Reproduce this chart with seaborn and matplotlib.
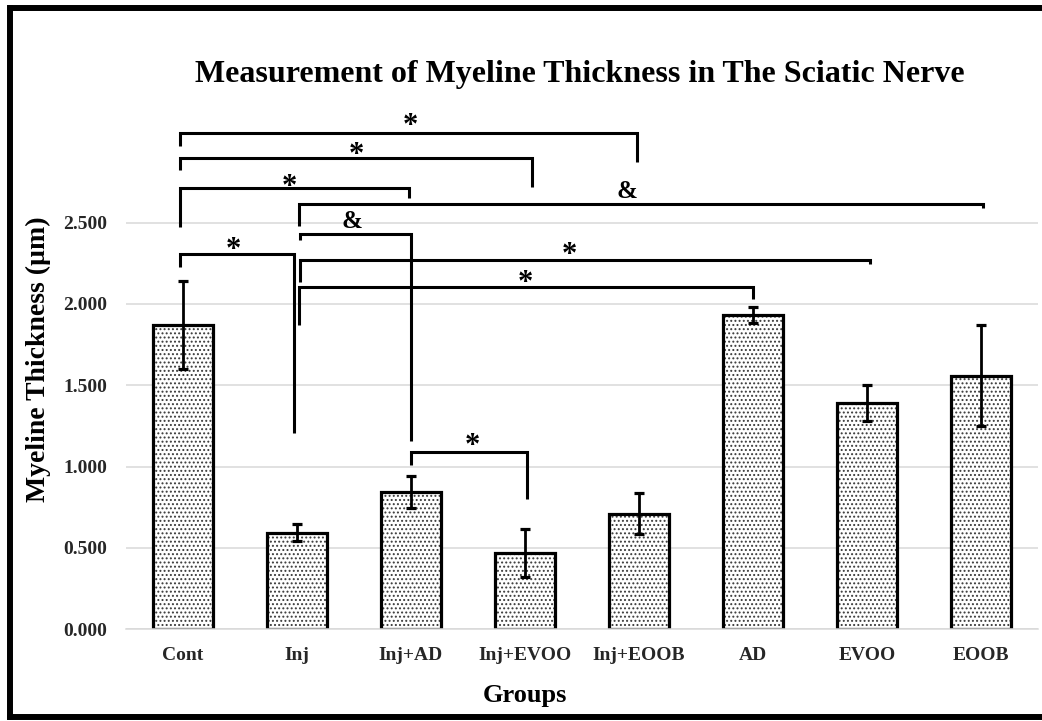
import matplotlib
matplotlib.use("Agg")
import matplotlib.pyplot as plt
import seaborn as sns
import pandas as pd
import numpy as np
from matplotlib.colors import to_rgba
from matplotlib.lines import Line2D

# ---------------- data ----------------
groups = ["Cont", "Inj", "Inj+AD", "Inj+EVOO", "Inj+EOOB", "AD", "EVOO", "EOOB"]
means = [1.87, 0.595, 0.845, 0.47, 0.71, 1.93, 1.39, 1.56]
errors = [0.27, 0.055, 0.10, 0.146, 0.125, 0.05, 0.11, 0.31]
yticks = [0.0, 0.5, 1.0, 1.5, 2.0, 2.5]
ytick_labels = ["0.000", "0.500", "1.000", "1.500", "2.000", "2.500"]

title = "Measurement of Myeline Thickness in The Sciatic Nerve"
ylabel = "Myeline Thickness (\u00b5m)"
xlabel = "Groups"

# significance brackets
bracket_left = ["Cont", "Cont", "Cont", "Inj", "Inj", "Cont", "Inj", "Inj", "Inj+AD"]
bracket_right = ["Inj+EOOB", "Inj+EVOO", "Inj+AD", "EOOB", "Inj+AD", "Inj", "EVOO", "AD", "Inj+EVOO"]
bracket_symbol = ["*", "*", "*", "&", "&", "*", "*", "*", "*"]
bracket_top = [3.05, 2.895, 2.71, 2.614, 2.43, 2.305, 2.27, 2.106, 1.088]
bracket_left_end = [2.97, 2.823, 2.475, 2.479, 2.39, 2.225, 2.137, 1.87, 1.01]
bracket_right_end = [2.87, 2.717, 2.65, 2.588, 1.157, 1.206, 2.245, 2.03, 0.80]
symbol_x = [1.99, 1.52, 0.93, 3.89, 1.48, 0.44, 3.39, 3.0, 2.54]
symbol_y = [3.13, 2.952, 2.76, 2.70, 2.52, 2.368, 2.337, 2.17, 1.163]
# small horizontal offsets of the bracket legs (category units)
left_dx = [-0.03, -0.03, -0.03, 0.02, 0.025, -0.03, 0.025, 0.02, 0.0]
right_dx = [-0.02, 0.06, -0.02, 0.02, 0.0, -0.03, 0.03, 0.0, 0.02]

df = pd.DataFrame({"group": groups, "mean": means, "err": errors})

# ---------------- style ----------------
sns.set_theme(style="white")
plt.rcParams["font.family"] = ["Liberation Serif", "DejaVu Serif"]
plt.rcParams["font.weight"] = "bold"
plt.rcParams["hatch.linewidth"] = 0.9

W, H = 1042, 721
fig = plt.figure(figsize=(W / 100, H / 100), dpi=100)
fig.patch.set_facecolor("white")
ax = fig.add_axes([126 / W, 1 - 629.3 / H, 912 / W, 520.6 / H])

sns.barplot(data=df, x="group", y="mean", order=groups, color="white",
            edgecolor="black", linewidth=2.3, width=0.52, errorbar=None,
            saturation=1, ax=ax, zorder=2)
for p in ax.patches:
    p.set_hatch("....")
    p._hatch_color = to_rgba("#3a3a3a")

pos = np.arange(len(groups))
ax.errorbar(pos, df["mean"], yerr=df["err"], fmt="none", ecolor="black",
            elinewidth=2.0, capsize=3.6, capthick=2.3, zorder=3)

ax.set_xlim(-0.5, len(groups) - 0.5)
ax.set_ylim(0, 3.2)
ax.set_yticks(yticks)
ax.set_yticklabels(ytick_labels)
ax.set_xticks(pos)
ax.set_xticklabels(groups)
ax.set_xticks(np.arange(len(groups) + 1) - 0.5, minor=True)
ax.tick_params(axis="x", which="major", length=0, pad=12.5, labelsize=14)
ax.tick_params(axis="x", which="minor", length=5, width=1.1, color="#d9d9d9", direction="out")
ax.tick_params(axis="y", length=0, pad=13.5, labelsize=14)
for lab in ax.get_xticklabels() + ax.get_yticklabels():
    lab.set_fontweight("bold")
ax.set_xlabel("")
ax.set_ylabel("")
ax.yaxis.grid(True, color="#d9d9d9", linewidth=1.1)
ax.xaxis.grid(False)
ax.set_axisbelow(True)
for s in ["top", "right", "left"]:
    ax.spines[s].set_visible(False)
ax.spines["bottom"].set_color("#d9d9d9")
ax.spines["bottom"].set_linewidth(1.1)
ax.set_facecolor("white")

# brackets
idx = {g: i for i, g in enumerate(groups)}
for i in range(len(bracket_left)):
    x1 = idx[bracket_left[i]] + left_dx[i]
    x2 = idx[bracket_right[i]] + right_dx[i]
    ax.plot([x1, x1, x2, x2],
            [bracket_left_end[i], bracket_top[i], bracket_top[i], bracket_right_end[i]],
            color="black", lw=2.2, solid_joinstyle="miter", solid_capstyle="butt",
            clip_on=False, zorder=4)
    sym = bracket_symbol[i]
    fs = 22 if sym == "*" else 18
    off = -0.47 * fs if sym == "*" else -0.33 * fs
    ax.annotate(sym, xy=(symbol_x[i], symbol_y[i]), xytext=(0, off),
                textcoords="offset points", ha="center", va="baseline",
                fontsize=fs, fontweight="bold", color="black",
                annotation_clip=False, zorder=5)

# titles / labels
fig.text(580 / W, 1 - 82 / H, title, ha="center", va="baseline",
         fontsize=23, fontweight="bold", color="black")
fig.text(38 / W, 1 - 359 / H, ylabel, ha="center", va="center", rotation=90,
         fontsize=20, fontweight="bold", color="black")
fig.text(525 / W, 1 - 702 / H, xlabel, ha="center", va="baseline",
         fontsize=19, fontweight="bold", color="black")

# outer frame (left, top, bottom)
lw_frame = 4.3
fig.add_artist(Line2D([10 / W, 10 / W], [1 - 717 / H, 1 - 8 / H], color="black",
                      lw=lw_frame, transform=fig.transFigure, solid_capstyle="projecting"))
fig.add_artist(Line2D([10 / W, 1.02], [1 - 8 / H, 1 - 8 / H], color="black",
                      lw=lw_frame, transform=fig.transFigure))
fig.add_artist(Line2D([10 / W, 1.02], [1 - 717 / H, 1 - 717 / H], color="black",
                      lw=lw_frame, transform=fig.transFigure))

fig.savefig("out.png", dpi=100, facecolor="white")
